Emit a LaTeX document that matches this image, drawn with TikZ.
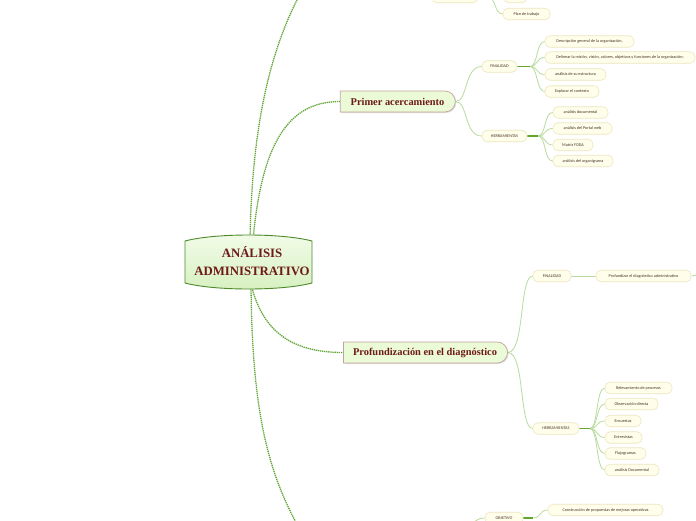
\documentclass[tikz,border=0pt]{standalone}
\usepackage{fontspec}
\setmainfont{Liberation Serif}
\newfontfamily\leaffont{Carlito}
\usetikzlibrary{shapes.misc,shadows}
\pgfdeclarelayer{bg}
\pgfsetlayers{bg,main}
\definecolor{leaffill}{HTML}{FEFEEA}
\definecolor{leafborder}{HTML}{EDE6BE}
\definecolor{leaftext}{HTML}{4A3428}
\definecolor{mainfill}{HTML}{EBFBD7}
\definecolor{mainborder}{HTML}{C2A29B}
\definecolor{maintext}{HTML}{6E1A1A}
\definecolor{dotgreen}{HTML}{5FA532}
\definecolor{lightgreen}{HTML}{B9DB9D}
\definecolor{darkgreen}{HTML}{63A52C}
\definecolor{centerborder}{HTML}{4E8A2D}
\definecolor{centertop}{HTML}{F2FCE8}
\definecolor{centerbot}{HTML}{D6F0C0}
\begin{document}
\begin{tikzpicture}[x=1pt,y=-1pt,
  leaf/.style={draw=leafborder, fill=leaffill, rounded corners=5pt, line width=0.6pt,
    minimum height=11.5pt, inner sep=0pt, font=\leaffont\fontsize{4.2}{5}\selectfont, text=leaftext},
  mainbox/.style={rounded rectangle, rounded rectangle west arc=none, draw=mainborder, fill=mainfill,
    line width=0.7pt, minimum height=21pt, inner sep=0pt,
    font=\bfseries\fontsize{10.4}{12}\selectfont, text=maintext,
    drop shadow={shadow xshift=1pt, shadow yshift=-1pt, opacity=0.25}},
  dotc/.style={draw=dotgreen, line width=1.3pt, dash pattern=on 1.3pt off 0.8pt},
  thinc/.style={draw=lightgreen, line width=0.8pt},
  thickc/.style={draw=darkgreen, line width=1.3pt}]
\useasboundingbox (0,0) rectangle (696,520);
\clip (0,0) rectangle (696,520);

% central node
\shade[top color=centertop, bottom color=centerbot, draw=centerborder, line width=0.9pt]
  (185,241) .. controls (215,233) and (282,233) .. (312,241) -- (312,283)
  .. controls (282,291) and (215,291) .. (185,283) -- cycle;
\node[align=center, font=\bfseries\fontsize{12.8}{18}\selectfont, text=maintext, inner sep=0pt] (C) at (252,261.5) {ANÁLISIS\\ADMINISTRATIVO};
\coordinate (Ctop) at (250,240);
\coordinate (Ctop2) at (253,240);
\coordinate (Cbot) at (251,284);
\coordinate (TopOff) at (308,-20);
\coordinate (BotOff) at (306,540);

% main branches
\node[mainbox, minimum width=115pt] (P1) at (397.5,101.5) {Primer acercamiento\hspace{9pt}};
\node[mainbox, minimum width=164pt] (P2) at (425,352.5) {Profundización en el diagnóstico\hspace{12pt}};

% top partial group
\node[leaf, minimum width=46pt] (T1) at (455,-3) {};
\node[leaf, minimum width=23pt] (T2) at (515.5,-3) {};
\node[leaf, minimum width=47pt] (Plan) at (526.5,14) {Plan de trabajo};
\coordinate (tj) at (488,-3);

% group 1
\node[leaf, minimum width=35pt] (F1) at (499.5,66.5) {FINALIDAD};
\node[leaf, minimum width=45pt] (H1) at (504.5,136) {HERRAMIENTAS};
\node[leaf, minimum width=89pt] (a1) at (589.5,41.5) {Descripción general de la organización,};
\node[leaf, minimum width=150pt] (a2) at (620,57.5) {Delinear la misión, visión, valores, objetivos y funciones de la organización;};
\node[leaf, minimum width=61pt] (a3) at (575.5,74.5) {análisis de su estructura};
\node[leaf, minimum width=54pt] (a4) at (572,91.5) {Explorar el contexto};
\node[leaf, minimum width=55pt] (b1) at (580.5,112.5) {análisis documental};
\node[leaf, minimum width=59pt] (b2) at (582.5,128.5) {análisis del Portal web};
\node[leaf, minimum width=40pt] (b3) at (573,145) {Matriz FODA};
\node[leaf, minimum width=60pt] (b4) at (583,161) {análisis del organigrama};
\coordinate (fj1) at (530,66.5);
\coordinate (hj1) at (538,136);

% group 2
\node[leaf, minimum width=38pt] (F2) at (552,276) {FINALIDAD};
\node[leaf, minimum width=95pt] (F2a) at (643.5,276) {Profundizar el diagnóstico administrativo};
\coordinate (F2off) at (702,270);
\node[leaf, minimum width=46pt] (H2) at (556,428.5) {HERRAMIENTAS};
\node[leaf, minimum width=67pt] (c1) at (638.5,388) {Relevamiento de procesos};
\node[leaf, minimum width=53pt] (c2) at (631.5,404) {Observación directa};
\node[leaf, minimum width=36pt] (c3) at (623,421) {Encuestas};
\node[leaf, minimum width=37pt] (c4) at (623.5,437.5) {Entrevistas};
\node[leaf, minimum width=41pt] (c5) at (625.5,453.5) {Flujogramas};
\node[leaf, minimum width=54pt] (c6) at (632,470) {análisis Documental};
\coordinate (hj2) at (590,428.5);

% bottom partial group
\node[leaf, minimum width=38pt] (O) at (504,518) {OBJETIVO};
\node[leaf, minimum width=115pt] (O1) at (605.5,510) {Construcción de propuestas de mejoras operativas};
\coordinate (oj) at (533,518);
\coordinate (Oin) at (468,532);

\begin{pgfonlayer}{bg}
  \fill[white] (0,0) rectangle (696,520);
  % dotted main connectors
  \draw[dotc] (Ctop) .. controls (252,120) and (272,40) .. (TopOff);
  \draw[dotc] (Ctop2) .. controls (262,140) and (290,101.5) .. (P1.west);
  \draw[dotc] (Cbot) .. controls (262,330) and (290,352.5) .. (P2.west);
  \draw[dotc] (Cbot) .. controls (252,420) and (270,480) .. (BotOff);
  % top group
  \draw[thinc] (tj) -- (T2.west);
  \draw[thinc] (tj) .. controls (496,-3) and (494,14) .. (Plan.west);
  \draw[thickc] (T1.east) -- (tj);
  % group 1
  \draw[thinc] (P1.east) .. controls (468,101.5) and (464,66.5) .. (F1.west);
  \draw[thinc] (P1.east) .. controls (468,101.5) and (464,136) .. (H1.west);
  \foreach \n in {a1,a2,a3,a4}
    \draw[thinc] (fj1) .. controls (538,66.5) and (536,0|-\n.west) .. (\n.west);
  \draw[thickc] (F1.east) -- (fj1);
  \foreach \n in {b1,b2,b3,b4}
    \draw[thinc] (hj1) .. controls (546,136) and (544,0|-\n.west) .. (\n.west);
  \draw[thickc] (H1.east) -- (hj1);
  % group 2
  \draw[thinc] (P2.east) .. controls (525,352.5) and (519,276) .. (F2.west);
  \draw[thinc] (P2.east) .. controls (525,352.5) and (519,428.5) .. (H2.west);
  \draw[thinc] (F2.east) -- (F2a.west);
  \draw[thinc] (F2a.east) .. controls (695,276) .. (F2off);
  \foreach \n in {c1,c2,c3,c4,c5,c6}
    \draw[thinc] (hj2) .. controls (598,428.5) and (596,0|-\n.west) .. (\n.west);
  \draw[thickc] (H2.east) -- (hj2);
  % bottom group
  \draw[thinc] (Oin) .. controls (474,520) and (478,518) .. (O.west);
  \draw[thinc] (oj) .. controls (541,518) and (539,510) .. (O1.west);
  \draw[thickc] (O.east) -- (oj);
\end{pgfonlayer}
\end{tikzpicture}
\end{document}
